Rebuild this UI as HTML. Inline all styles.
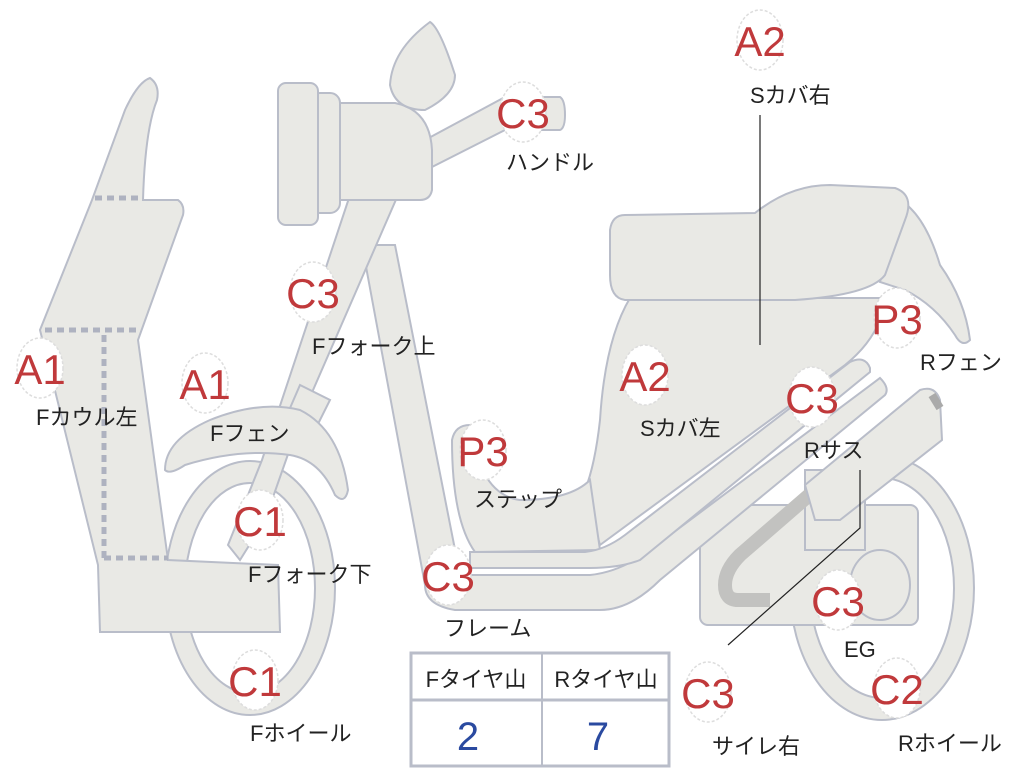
<!DOCTYPE html>
<html><head><meta charset="utf-8"><style>
html,body{margin:0;padding:0;background:#fff;overflow:hidden}
svg{display:block}
.s{fill:#e9e9e5;stroke:#b9bdc9;stroke-width:2}
.c{fill:#fff;stroke:#ddd;stroke-width:1.5;stroke-dasharray:3 2}
.r{fill:#c0393b;font-family:"Liberation Sans",sans-serif;font-size:42px}
.l{fill:#222;font-family:"Liberation Sans","Noto Sans CJK JP",sans-serif;font-size:22px}
</style></head><body>
<svg width="1024" height="768" viewBox="0 0 1024 768">
<!-- rear wheel -->
<path class="s" fill-rule="evenodd" d="M790,588a92,132 0 1,0 184,0a92,132 0 1,0 -184,0Z M810,588a72,110 0 1,0 144,0a72,110 0 1,0 -144,0Z"/>
<!-- engine -->
<rect class="s" x="700" y="505" width="218" height="120" rx="8"/>
<rect class="s" x="805" y="470" width="60" height="80"/>
<ellipse class="s" cx="880" cy="585" rx="30" ry="35"/>
<path d="M770,600 L738,600 Q725,600 725,585 Q725,570 740,555 L815,490" fill="none" stroke="#c2c2c0" stroke-width="14"/>
<!-- rear suspension -->
<path class="s" d="M805,485 L920,390 Q935,385 940,400 L942,440 L840,520 L815,520 Z"/>
<path d="M932,395 L940,408" stroke="#aaa" stroke-width="8"/>
<!-- rear fender -->
<path class="s" d="M900,200 Q925,215 940,265 Q965,300 970,340 Q962,348 955,335 Q935,305 905,290 L880,282 Z"/>
<!-- body / side cover -->
<path class="s" d="M630,298 Q605,340 600,420 Q595,465 585,490 L600,545 L845,365 Q870,345 880,320 L895,298 Z"/>
<path class="s" d="M470,425 Q455,425 452,440 Q452,520 475,552 L600,550 L590,480 Q570,500 520,500 Q480,495 470,425Z"/>
<!-- seat -->
<path class="s" d="M625,215 L755,213 Q790,185 830,185 L895,188 Q915,195 905,220 L885,275 Q870,295 795,300 L625,300 Q610,298 610,275 L610,230 Q612,215 625,215Z"/>
<!-- frame -->
<path class="s" d="M362,245 L395,245 L460,575 L590,575 Q620,572 650,550 L880,378 Q890,388 885,395 L660,580 Q630,610 600,610 L455,610 Q425,605 425,585 Z"/>
<path class="s" d="M470,552 L585,552 Q605,550 625,535 L850,362 Q865,355 870,368 L870,372 L640,560 Q620,568 590,568 L470,568 Z"/>
<!-- front wheel -->
<path class="s" fill-rule="evenodd" d="M165,588a85,127 0 1,0 170,0a85,127 0 1,0 -170,0Z M185,588a65,105 0 1,0 130,0a65,105 0 1,0 -130,0Z"/>
<!-- fork -->
<path class="s" d="M350,195 L398,195 L300,420 L265,520 L240,560 L228,545 L262,460 Z"/>
<path class="s" d="M300,385 L330,400 L315,430 L287,415 Z"/>
<!-- front fender -->
<path class="s" d="M165,470 Q165,440 210,420 Q260,400 300,410 Q340,430 348,490 Q345,505 335,495 Q320,460 290,455 Q240,448 185,465 Q170,475 165,470Z"/>
<!-- cowl -->
<path class="s" d="M150,78 Q160,85 157,100 Q145,130 143,200 L178,200 Q185,205 183,215 L138,340 L168,560 L278,565 L280,632 L100,632 L98,565 L45,350 L40,330 L92,200 L125,110 Q138,82 150,78Z"/>
<path d="M95,198 L142,198 M45,330 L138,330 M104,335 L104,560 M104,558 L168,558" stroke="#aeb2c0" stroke-width="5" stroke-dasharray="7 5" fill="none"/>
<!-- handlebar -->
<path class="s" d="M425,140 L505,97 L560,97 Q565,100 565,115 Q565,128 560,130 L505,130 L430,168 Z"/>
<path class="s" d="M340,103 L395,103 Q430,110 432,150 L432,190 Q430,200 420,200 L340,200 Z"/>
<rect class="s" x="310" y="93" width="30" height="120" rx="10"/>
<rect class="s" x="278" y="83" width="40" height="142" rx="8"/>
<path class="s" d="M430,22 Q440,28 455,75 Q455,95 425,110 Q395,110 390,85 Q392,50 430,22Z"/>
<!-- leader lines -->
<line x1="760" y1="115" x2="760" y2="345" stroke="#222" stroke-width="1.2"/>
<path d="M728,645 L860,528 L860,470" fill="none" stroke="#222" stroke-width="1.2"/>
<!-- badges -->
<g>
<ellipse class="c" cx="760" cy="40" rx="23" ry="30"/><text class="r" x="760" y="56" text-anchor="middle">A2</text>
<ellipse class="c" cx="523" cy="112" rx="23" ry="30"/><text class="r" x="523" y="128" text-anchor="middle">C3</text>
<ellipse class="c" cx="313" cy="292" rx="23" ry="30"/><text class="r" x="313" y="308" text-anchor="middle">C3</text>
<ellipse class="c" cx="40" cy="368" rx="23" ry="30"/><text class="r" x="40" y="384" text-anchor="middle">A1</text>
<ellipse class="c" cx="205" cy="383" rx="23" ry="30"/><text class="r" x="205" y="399" text-anchor="middle">A1</text>
<ellipse class="c" cx="897" cy="318" rx="23" ry="30"/><text class="r" x="897" y="334" text-anchor="middle">P3</text>
<ellipse class="c" cx="645" cy="375" rx="23" ry="30"/><text class="r" x="645" y="391" text-anchor="middle">A2</text>
<ellipse class="c" cx="812" cy="397" rx="23" ry="30"/><text class="r" x="812" y="413" text-anchor="middle">C3</text>
<ellipse class="c" cx="483" cy="450" rx="23" ry="30"/><text class="r" x="483" y="466" text-anchor="middle">P3</text>
<ellipse class="c" cx="260" cy="520" rx="23" ry="30"/><text class="r" x="260" y="536" text-anchor="middle">C1</text>
<ellipse class="c" cx="448" cy="575" rx="23" ry="30"/><text class="r" x="448" y="591" text-anchor="middle">C3</text>
<ellipse class="c" cx="838" cy="600" rx="23" ry="30"/><text class="r" x="838" y="616" text-anchor="middle">C3</text>
<ellipse class="c" cx="255" cy="680" rx="23" ry="30"/><text class="r" x="255" y="696" text-anchor="middle">C1</text>
<ellipse class="c" cx="897" cy="688" rx="23" ry="30"/><text class="r" x="897" y="704" text-anchor="middle">C2</text>
<ellipse class="c" cx="708" cy="692" rx="23" ry="30"/><text class="r" x="708" y="708" text-anchor="middle">C3</text>
</g>
<g class="l">
<text x="750" y="103">Sカバ右</text>
<text x="506" y="170">ハンドル</text>
<text x="312" y="354">Fフォーク上</text>
<text x="36" y="425">Fカウル左</text>
<text x="210" y="441">Fフェン</text>
<text x="920" y="370">Rフェン</text>
<text x="640" y="436">Sカバ左</text>
<text x="804" y="458">Rサス</text>
<text x="474" y="507">ステップ</text>
<text x="248" y="582">Fフォーク下</text>
<text x="444" y="636">フレーム</text>
<text x="844" y="657">EG</text>
<text x="250" y="741">Fホイール</text>
<text x="898" y="751">Rホイール</text>
<text x="712" y="754">サイレ右</text>
</g>
<!-- table -->
<rect x="411" y="653" width="258" height="113" fill="#fff" stroke="#b9bdc9" stroke-width="3"/>
<line x1="411" y1="700" x2="669" y2="700" stroke="#b9bdc9" stroke-width="3"/>
<line x1="542" y1="653" x2="542" y2="766" stroke="#b9bdc9" stroke-width="2"/>
<text class="l" x="476" y="687" text-anchor="middle">Fタイヤ山</text>
<text class="l" x="606" y="687" text-anchor="middle">Rタイヤ山</text>
<text x="468" y="750" text-anchor="middle" font-family="Liberation Sans,sans-serif" font-size="40" fill="#2a4aa0">2</text>
<text x="598" y="750" text-anchor="middle" font-family="Liberation Sans,sans-serif" font-size="40" fill="#2a4aa0">7</text>
</svg>
</body></html>
